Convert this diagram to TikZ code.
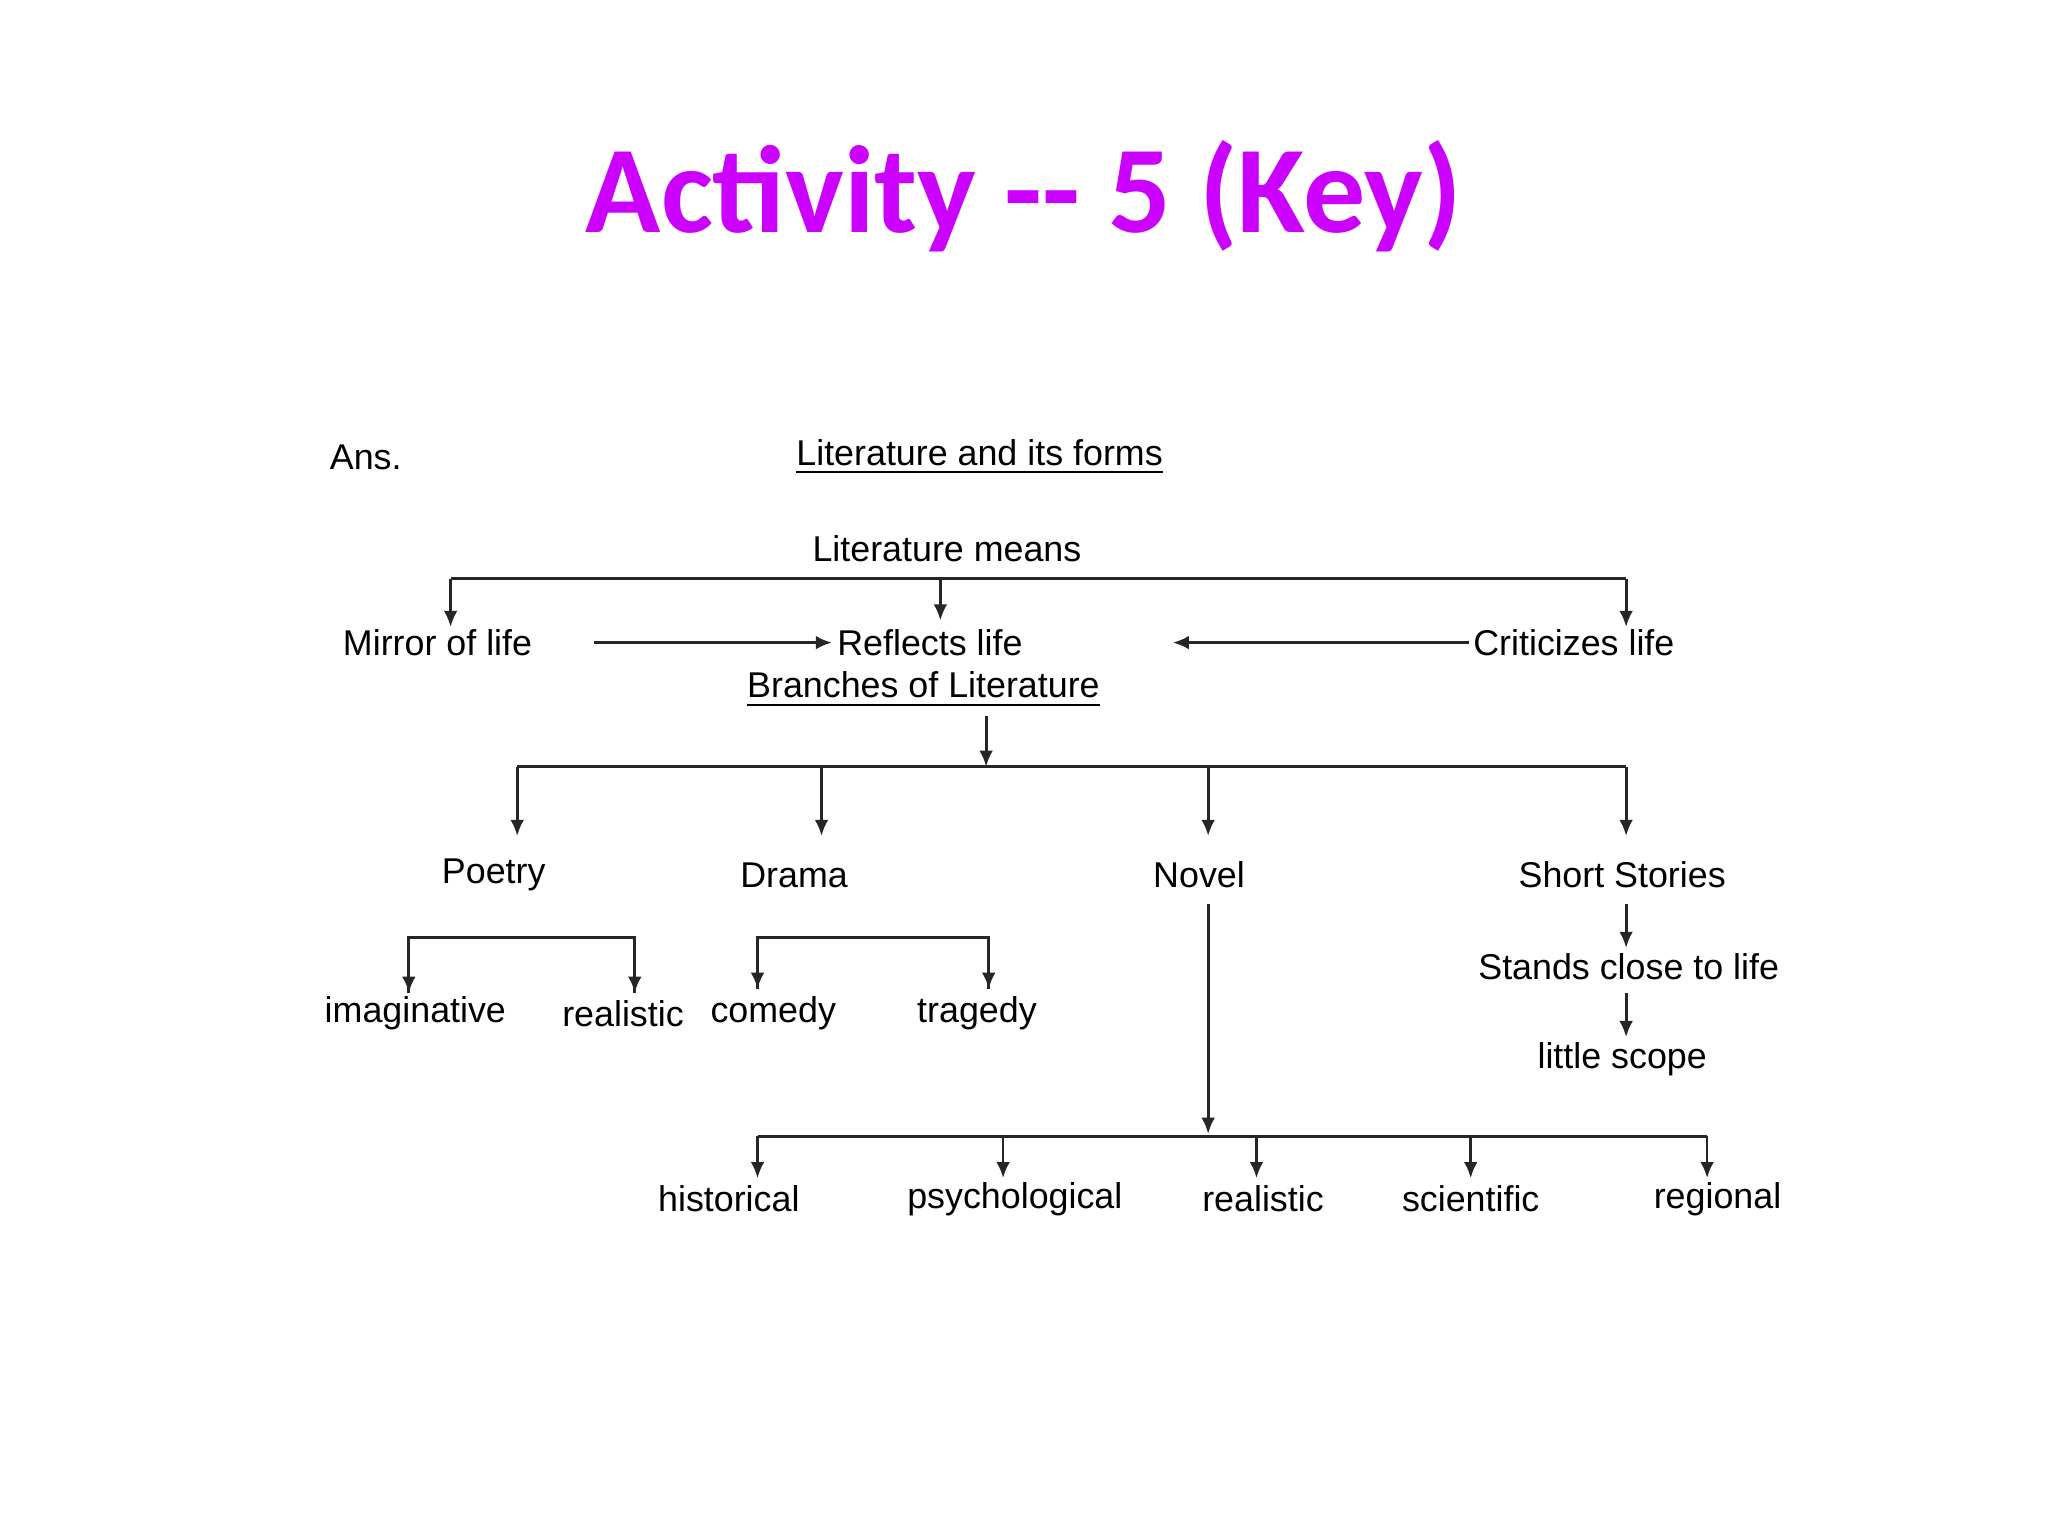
\documentclass[tikz,border=0pt]{standalone}
\usepackage{fontspec}
\setmainfont{Liberation Sans}
\newfontfamily\titlefont{Carlito}
\usetikzlibrary{arrows.meta}
\definecolor{ttl}{RGB}{204,0,255}
\begin{document}
\begin{tikzpicture}[x=0.01cm,y=-0.01cm,
  lab/.style={inner sep=1pt,font=\fontsize{7.8pt}{9pt}\selectfont},
  ln/.style={line width=0.6pt,black!85},
  ar/.style={ln,-{Latex[length=3.5pt,width=3pt]}}]
\useasboundingbox[fill=white] (0,0) rectangle (1568,1176);
\node[font=\titlefont\bfseries\fontsize{27pt}{30pt}\selectfont,text=ttl] (title) at (784,150) {Activity -- 5 (Key)};
\node[lab] (ans) at (280,350) {Ans.};
\node[lab] (lf) at (750,350) {\underline{Literature and its forms}};
\node[lab] (lm) at (725,420) {Literature means};
\node[lab] (mir) at (335,492) {Mirror of life};
\node[lab] (ref) at (712,492) {Reflects life};
\node[lab] (cri) at (1205,492) {Criticizes life};
\node[lab] (br) at (707,528) {\underline{Branches of Literature}};
\node[lab] (po) at (378,670) {Poetry};
\node[lab] (dr) at (608,670) {Drama};
\node[lab] (no) at (918,670) {Novel};
\node[lab] (ss) at (1242,670) {Short Stories};
\node[lab] (im) at (318,776) {imaginative};
\node[lab] (re1) at (477,776) {realistic};
\node[lab] (co) at (592,776) {comedy};
\node[lab] (tr) at (748,776) {tragedy};
\node[lab] (st) at (1247,740) {Stands close to life};
\node[lab] (ls) at (1242,811) {little scope};
\node[lab] (hi) at (558,918) {historical};
\node[lab] (ps) at (777,918) {psychological};
\node[lab] (re2) at (967,918) {realistic};
\node[lab] (sc) at (1126,918) {scientific};
\node[lab] (rg) at (1315,918) {regional};
% literature means
\coordinate (a1) at (345,443); \coordinate (a2) at (1245,443);
\draw[ln] (a1) -- (a2);
\draw[ar] (a1) -- (345,480);
\draw[ar] (720,443) -- (720,475);
\draw[ar] (a2) -- (1245,480);
\draw[ar] (455,492) -- (ref.west);
\draw[ar] (1125,492) -- (898,492);
% branches
\draw[ar] (755,548) -- (755,587);
\draw[ln] (396,587) -- (1245,587);
\foreach \x in {396,629,925,1245} \draw[ar] (\x,587) -- (\x,640);
% poetry / drama
\draw[ln] (313,760) -- (313,718) -- (486,718) -- (486,760);
\draw[ar] (313,730) -- (313,760); \draw[ar] (486,730) -- (486,760);
\draw[ln] (580,757) -- (580,718) -- (757,718) -- (757,757);
\draw[ar] (580,730) -- (580,757); \draw[ar] (757,730) -- (757,757);
% short stories
\draw[ar] (1245,692) -- (st.north -| 1245,0);
\draw[ar] (1245,760) -- (ls.north -| 1245,0);
% novel
\draw[ar] (925,692) -- (925,868);
\draw[ln] (580,870) -- (1307,870);
\foreach \x in {580,768,962,1126,1307} \draw[ar] (\x,870) -- (\x,902);
\end{tikzpicture}
\end{document}
